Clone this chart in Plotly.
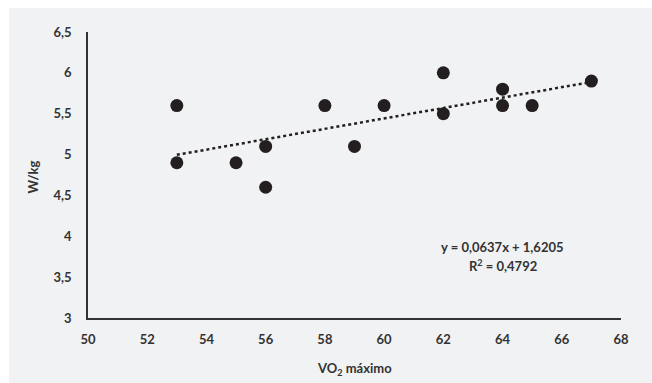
import plotly.graph_objects as go

vo2 = [53, 53, 55, 56, 56, 58, 59, 60, 62, 62, 64, 64, 65, 67]
wkg = [5.6, 4.9, 4.9, 5.1, 4.6, 5.6, 5.1, 5.6, 6.0, 5.5, 5.8, 5.6, 5.6, 5.9]
slope, intercept = 0.0637, 1.6205
x_ticks = [50, 52, 54, 56, 58, 60, 62, 64, 66, 68]
y_ticks = [3, 3.5, 4, 4.5, 5, 5.5, 6, 6.5]
y_tick_labels = ["3", "3,5", "4", "4,5", "5", "5,5", "6", "6,5"]

ink = "#231f20"
bg = "#f1f2f4"
font = dict(family="Lato", size=13, color="#333333", weight=700)

x_line = [min(vo2), max(vo2)]
y_line = [slope * v + intercept for v in x_line]

fig = go.Figure()
fig.add_trace(go.Scatter(x=x_line, y=y_line, mode="lines",
                         line=dict(color=ink, width=2.5, dash="dot"),
                         hoverinfo="skip", showlegend=False))
fig.add_trace(go.Scatter(x=vo2, y=wkg, mode="markers",
                         marker=dict(color=ink, size=13),
                         showlegend=False))

fig.update_layout(
    width=652, height=383,
    margin=dict(l=88, r=31, t=32, b=65),
    paper_bgcolor="white", plot_bgcolor=bg,
    font=font,
    shapes=[dict(type="rect", xref="paper", yref="paper", layer="below",
                 x0=-79 / 533, x1=1 + 31 / 533, y0=-65 / 286, y1=1 + 24 / 286,
                 fillcolor=bg, line=dict(width=0))],
    xaxis=dict(range=[50, 68], tickvals=x_ticks, showgrid=False, zeroline=False,
               showline=True, linecolor="#333333", linewidth=1.5,
               ticks="", ticklabelstandoff=9, tickfont=font),
    yaxis=dict(range=[3, 6.5], tickvals=y_ticks, ticktext=y_tick_labels,
               showgrid=False, zeroline=False,
               showline=True, linecolor="#333333", linewidth=1.5,
               ticks="", ticklabelstandoff=12, tickfont=font),
    annotations=[
        dict(x=64.0, y=3.87, xref="x", yref="y", showarrow=False,
             xanchor="center", yanchor="middle",
             text="y = 0,0637x + 1,6205", font=font),
        dict(x=64.0, y=3.64, xref="x", yref="y", showarrow=False,
             xanchor="center", yanchor="middle",
             text="R<sup>2</sup> = 0,4792", font=font),
        dict(x=59.0, y=-51 / 286, xref="x", yref="paper", showarrow=False,
             xanchor="center", yanchor="middle",
             text="VO<sub>2</sub> máximo", font=font),
        dict(x=-55 / 533, y=4.72, xref="paper", yref="y", showarrow=False,
             xanchor="center", yanchor="middle",
             text="W/kg", textangle=-90, font=font),
    ],
)

fig.write_html("out.html", config={"displayModeBar": False},
               post_script="document.body.style.margin='0';")
